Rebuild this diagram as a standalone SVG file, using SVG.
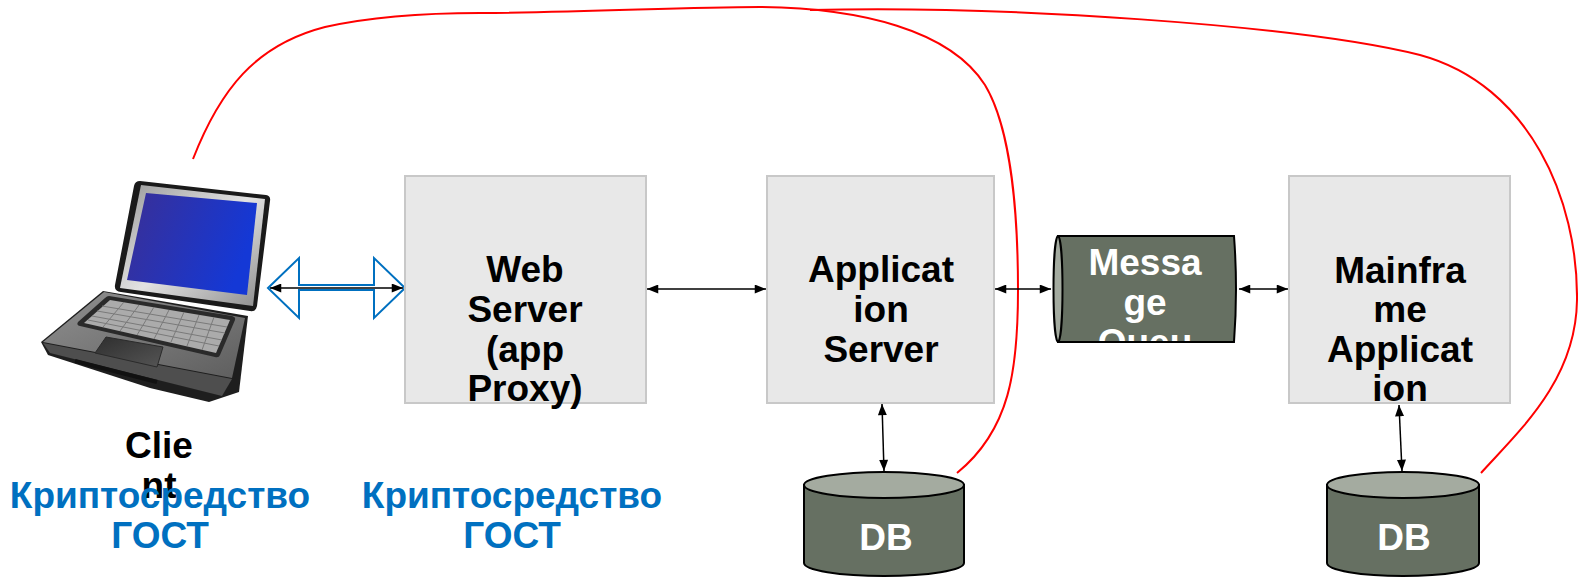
<svg xmlns="http://www.w3.org/2000/svg" width="1578" height="577" viewBox="0 0 1578 577">
  <style>
    .box { fill: #E8E8E8; stroke: #C8C8C8; stroke-width: 2; }
    .lbl { font-family: "Liberation Sans", Arial, sans-serif; font-weight: bold; font-size: 37px; text-anchor: middle; }
    .dark { fill: #000000; }
    .light { fill: #FFFFFF; }
    .blue { fill: #0070C0; }
    .cyl { fill: #667062; stroke: #000000; stroke-width: 2; }
    .cap { fill: #A4ABA0; stroke: #000000; stroke-width: 2; }
    .link { stroke: #000000; stroke-width: 1.5; fill: none; marker-start: url(#ah); marker-end: url(#ah); }
    .red { stroke: #FF0000; stroke-width: 2; fill: none; }
  </style>
  <defs>
    <marker id="ah" viewBox="0 0 10 8" refX="10" refY="4" markerWidth="12" markerHeight="9" markerUnits="userSpaceOnUse" orient="auto-start-reverse">
      <path d="M0,0 L10,4 L0,8 Z" fill="#000000"/>
    </marker>
    <linearGradient id="screen" x1="0" y1="0" x2="1" y2="0.3">
      <stop offset="0" stop-color="#3A2F95"/>
      <stop offset="1" stop-color="#1438D6"/>
    </linearGradient>
    <linearGradient id="bezel" x1="0" y1="0" x2="1" y2="1">
      <stop offset="0" stop-color="#9A9A9A"/>
      <stop offset="0.5" stop-color="#E2E2E2"/>
      <stop offset="1" stop-color="#8C8C8C"/>
    </linearGradient>
    <linearGradient id="deck" x1="0" y1="0" x2="1" y2="1">
      <stop offset="0" stop-color="#909090"/>
      <stop offset="1" stop-color="#5E5E5E"/>
    </linearGradient>
    <linearGradient id="pad" x1="0" y1="0" x2="1" y2="1">
      <stop offset="0" stop-color="#2E2E2E"/>
      <stop offset="1" stop-color="#555555"/>
    </linearGradient>
    <clipPath id="mqclip">
      <rect x="1053" y="236" width="184" height="105"/>
    </clipPath>
  </defs>

  <!-- red curved links -->
  <g id="connectors">
    <path class="red" d="M193,159 C220,90 255,45 325,27 C370,17 420,13 480,13 C600,12 680,7 760,7 C860,8 950,30 985,85 C1012,130 1018,220 1018,290 C1018,370 1010,430 957,473"/>
    <path class="red" d="M810,10 C1000,5 1300,25 1420,55 C1530,85 1578,200 1577,300 C1576,380 1520,430 1481,473"/>

    <!-- client to web server: hollow double arrow -->
    <polygon points="268,288 299,258 299,285 374,285 374,258 405,288 374,318 374,290 299,290 299,318" fill="none" stroke="#0070C0" stroke-width="2" stroke-linejoin="miter"/>
    <line class="link" x1="270" y1="288" x2="403" y2="288"/>

    <line class="link" x1="647" y1="289" x2="766" y2="289"/>
    <line class="link" x1="995" y1="289" x2="1051" y2="289"/>
    <line class="link" x1="1239" y1="289" x2="1288" y2="289"/>
    <line class="link" x1="882" y1="404" x2="884" y2="471"/>
    <line class="link" x1="1399" y1="405" x2="1402" y2="471"/>
  </g>

  <!-- laptop -->
  <g id="client">
    <!-- base -->
    <path d="M103,291 L248,316 L239,392 L209,402 L150,388 L48,355 L41,342 Z" fill="#1E1E1E"/>
    <path d="M104,292 L245,318 L232,378 L43,342 Z" fill="url(#deck)"/>
    <path d="M43,343 L232,379 L222,396 L50,353 Z" fill="#4E4E4E"/>
    <path d="M75,361 L157,382" stroke="#111" stroke-width="4"/>
    <!-- keyboard -->
    <path d="M109,296 L232,316 Q236,317 235,320 L220,355 Q219,358 215,357 L80,326 Q76,325 78,322 L105,298 Q107,296 109,296 Z" fill="#2A2A2A"/>
    <path d="M110,300 L230,320 L216,353 L84,323 Z" fill="#ABABAB"/>
    <g stroke="#7A7A7A" stroke-width="1">
      <line x1="102" y1="306" x2="227" y2="327"/>
      <line x1="97" y1="311" x2="225" y2="333"/>
      <line x1="92" y1="316" x2="222" y2="340"/>
      <line x1="88" y1="320" x2="219" y2="346"/>
      <line x1="124" y1="302" x2="103" y2="327"/>
      <line x1="139" y1="305" x2="120" y2="331"/>
      <line x1="154" y1="307" x2="137" y2="335"/>
      <line x1="169" y1="310" x2="154" y2="339"/>
      <line x1="184" y1="312" x2="171" y2="342"/>
      <line x1="199" y1="315" x2="187" y2="346"/>
      <line x1="214" y1="317" x2="202" y2="350"/>
    </g>
    <!-- touchpad -->
    <path d="M106,337 L163,347 L157,367 L95,353 Z" fill="url(#pad)" stroke="#2A2A2A" stroke-width="1"/>
    <!-- lid -->
    <path d="M140,181 L266,195 Q271,196 270,201 L257,306 Q256,312 250,311 L121,292 Q114,291 115,285 L134,186 Q135,181 140,181 Z" fill="#1A1A1A"/>
    <path d="M141,185 L265,199 L253,306 L120,288 Z" fill="url(#bezel)"/>
    <path d="M146,193 L257,203 L247,295 L127,280 Z" fill="url(#screen)"/>
  </g>

  <g id="client-label">
    <text class="lbl dark" x="159" y="458">Clie</text>
    <text class="lbl dark" x="159" y="498">nt</text>
  </g>
  <g id="crypto-client">
    <text class="lbl blue" x="160" y="508">Криптосредство</text>
    <text class="lbl blue" x="160" y="548">ГОСТ</text>
  </g>
  <g id="crypto-web">
    <text class="lbl blue" x="512" y="508">Криптосредство</text>
    <text class="lbl blue" x="512" y="548">ГОСТ</text>
  </g>

  <g id="web-server">
    <rect class="box" x="405" y="176" width="241" height="227"/>
    <text class="lbl dark" x="525" y="282">Web</text>
    <text class="lbl dark" x="525" y="322">Server</text>
    <text class="lbl dark" x="525" y="362">(app</text>
    <text class="lbl dark" x="525" y="401">Proxy)</text>
  </g>

  <g id="application-server">
    <rect class="box" x="767" y="176" width="227" height="227"/>
    <text class="lbl dark" x="881" y="282">Applicat</text>
    <text class="lbl dark" x="881" y="322">ion</text>
    <text class="lbl dark" x="881" y="362">Server</text>
  </g>

  <g id="message-queue">
    <path class="cyl" d="M1058,236 L1234,236 Q1238,289 1234,342 L1058,342 Z"/>
    <ellipse class="cap" cx="1058" cy="289" rx="4.5" ry="53"/>
    <g clip-path="url(#mqclip)">
      <text class="lbl light" x="1145" y="275">Messa</text>
      <text class="lbl light" x="1145" y="315">ge</text>
      <text class="lbl light" x="1145" y="355">Queu</text>
    </g>
  </g>

  <g id="mainframe-application">
    <rect class="box" x="1289" y="176" width="221" height="227"/>
    <text class="lbl dark" x="1400" y="283">Mainfra</text>
    <text class="lbl dark" x="1400" y="322">me</text>
    <text class="lbl dark" x="1400" y="362">Applicat</text>
    <text class="lbl dark" x="1400" y="401">ion</text>
  </g>

  <g id="db-app">
    <path class="cyl" d="M804,485 L804,563 A80,13 0 0 0 964,563 L964,485 Z"/>
    <ellipse class="cap" cx="884" cy="485" rx="80" ry="13"/>
    <text class="lbl light" x="886" y="550">DB</text>
  </g>

  <g id="db-mainframe">
    <path class="cyl" d="M1327,485 L1327,563 A76,13 0 0 0 1479,563 L1479,485 Z"/>
    <ellipse class="cap" cx="1403" cy="485" rx="76" ry="13"/>
    <text class="lbl light" x="1404" y="550">DB</text>
  </g>
</svg>
